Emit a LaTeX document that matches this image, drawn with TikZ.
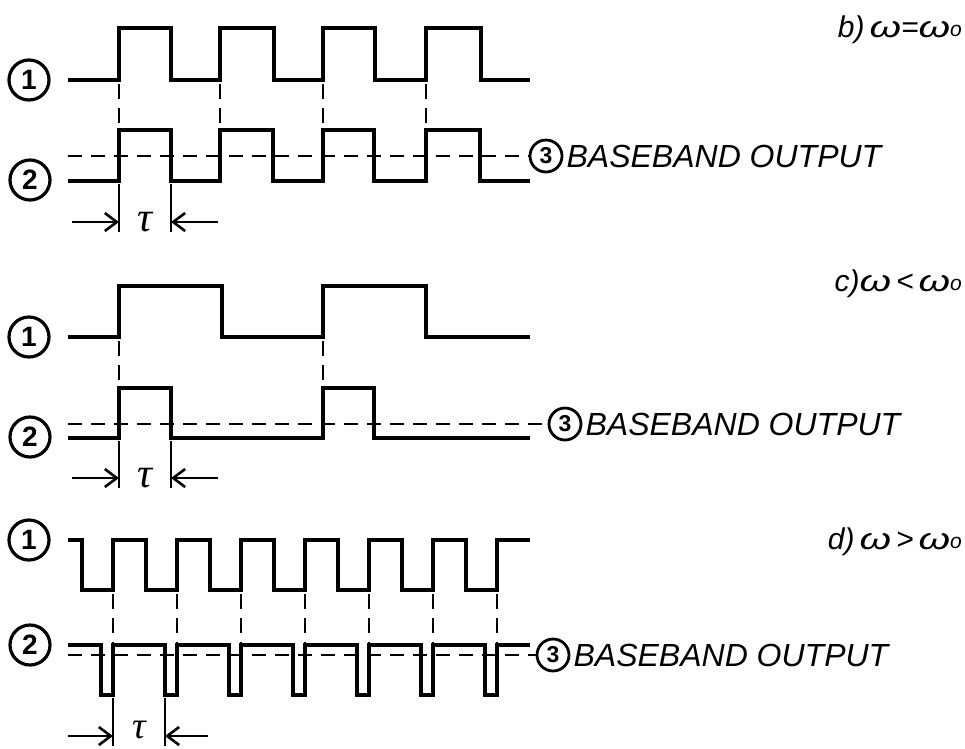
\documentclass[tikz,border=0pt]{standalone}
\usepackage{fontspec}
\setmainfont{Liberation Sans}
\newfontfamily\taufont{Liberation Serif}
\usetikzlibrary{arrows.meta}
\newcommand{\wom}{\scalebox{1.35}[1]{ω}}
\newcommand{\osub}{\raisebox{0.05em}{\scalebox{0.7}{o}}}
\begin{document}
\begin{tikzpicture}[x=1pt,y=-1pt,
  sig/.style={line width=4pt, line join=miter},
  ref/.style={line width=2.6pt, dash pattern=on 14pt off 9pt},
  vref/.style={line width=2.4pt, dash pattern=on 15pt off 9pt},
  tick/.style={line width=2.6pt},
  dim/.style={line width=2.6pt, -{Straight Barb[length=12pt,width=18pt,line width=2.6pt]}},
  num/.style={circle, draw, line width=3.2pt, minimum size=40pt, inner sep=0pt, font=\fontsize{28}{28}\selectfont\bfseries},
  outnum/.style={circle, draw, line width=2.8pt, minimum size=32pt, inner sep=0pt, font=\fontsize{23}{23}\selectfont\bfseries},
  outtxt/.style={anchor=west, inner sep=0pt, font=\fontsize{32}{32}\selectfont\itshape},
  lab/.style={anchor=east, inner sep=0pt, font=\fontsize{30}{30}\selectfont\itshape},
  taulab/.style={inner sep=0pt, font=\fontsize{42}{42}\selectfont\taufont\itshape}
]
\useasboundingbox (0,0) rectangle (965,748);

% ================= panel b =================
\node[num] (b1) at (29,80) {1};
\node[num] (b2) at (30,180) {2};
\node[lab] (lbb) at (962,30) {b)\,\wom{}=\wom\osub};
\draw[sig] (68,80) -- (119,80) -- (119,28) -- (171,28) -- (171,80) -- (220,80) -- (220,28) -- (274,28) -- (274,80)
  -- (323,80) -- (323,28) -- (375,28) -- (375,80) -- (426,80) -- (426,28) -- (481,28) -- (481,80) -- (530,80);
\draw[sig] (68,181) -- (119,181) -- (119,130) -- (171,130) -- (171,181) -- (220,181) -- (220,130) -- (273,130) -- (273,181)
  -- (323,181) -- (323,130) -- (374,130) -- (374,181) -- (426,181) -- (426,130) -- (480,130) -- (480,181) -- (530,181);
\foreach \r in {119,220,323,426} \draw[vref] (\r,84) -- (\r,130);
\node[outnum] (b3) at (546,156) {3};
\node[outtxt] (bt) at ([xshift=3pt]b3.east) {BASEBAND OUTPUT};
\coordinate (bs) at (68,156);
\draw[ref] (bs) -- (b3.west);
\draw[tick] (119,184) -- (119,232);
\draw[tick] (171,184) -- (171,232);
\coordinate (bal) at (72,222);
\coordinate (bar) at (218,222);
\coordinate (bae) at (119,222);
\coordinate (bbe) at (171,222);
\draw[dim] (bal) -- (bae);
\draw[dim] (bar) -- (bbe);
\node[taulab] (btau) at (145,222) {τ};

% ================= panel c =================
\node[num] (c1) at (29,337) {1};
\node[num] (c2) at (30,437) {2};
\node[lab] (lbc) at (962,284) {c)\wom\,<\,\wom\osub};
\draw[sig] (68,337) -- (119,337) -- (119,286) -- (222,286) -- (222,337) -- (323,337) -- (323,286) -- (426,286) -- (426,337) -- (530,337);
\draw[sig] (68,438) -- (119,438) -- (119,388) -- (171,388) -- (171,438) -- (323,438) -- (323,388) -- (374,388) -- (374,438) -- (530,438);
\foreach \r in {119,323} \draw[vref] (\r,341) -- (\r,388);
\node[outnum] (c3) at (565,424) {3};
\node[outtxt] (ct) at ([xshift=3pt]c3.east) {BASEBAND OUTPUT};
\coordinate (cs) at (68,424);
\draw[ref] (cs) -- (c3.west);
\draw[tick] (119,441) -- (119,488);
\draw[tick] (171,441) -- (171,488);
\coordinate (cal) at (72,478);
\coordinate (car) at (218,478);
\coordinate (cae) at (119,478);
\coordinate (cbe) at (171,478);
\draw[dim] (cal) -- (cae);
\draw[dim] (car) -- (cbe);
\node[taulab] (ctau) at (145,478) {τ};

% ================= panel d =================
\node[num] (d1) at (29,540) {1};
\node[num] (d2) at (30,645) {2};
\node[lab] (lbd) at (962,542) {d)\,\wom\,>\,\wom\osub};
\draw[sig] (68,540) \foreach \r in {113,177,241,305,369,433,497} { -- ({\r-31},540) -- ({\r-31},590) -- (\r,590) -- (\r,540) } -- (530,540);
\draw[sig] (68,645) \foreach \r in {113,177,241,305,369,433,497} { -- ({\r-12},645) -- ({\r-12},695) -- (\r,695) -- (\r,645) } -- (530,645);
\foreach \r in {113,177,241,305,369,433,497} \draw[vref] (\r,594) -- (\r,645);
\node[outnum] (d3) at (553,655) {3};
\node[outtxt] (dt) at ([xshift=3pt]d3.east) {BASEBAND OUTPUT};
\coordinate (ds) at (68,655);
\draw[ref] (ds) -- (d3.west);
\draw[tick] (113,698) -- (113,746);
\draw[tick] (165,698) -- (165,746);
\coordinate (dal) at (68,736);
\coordinate (dar) at (208,736);
\coordinate (dae) at (113,736);
\coordinate (dbe) at (165,736);
\draw[dim] (dal) -- (dae);
\draw[dim] (dar) -- (dbe);
\node[taulab, font=\fontsize{38}{38}\selectfont\taufont\itshape] (dtau) at (139,730) {τ};
\end{tikzpicture}
\end{document}
